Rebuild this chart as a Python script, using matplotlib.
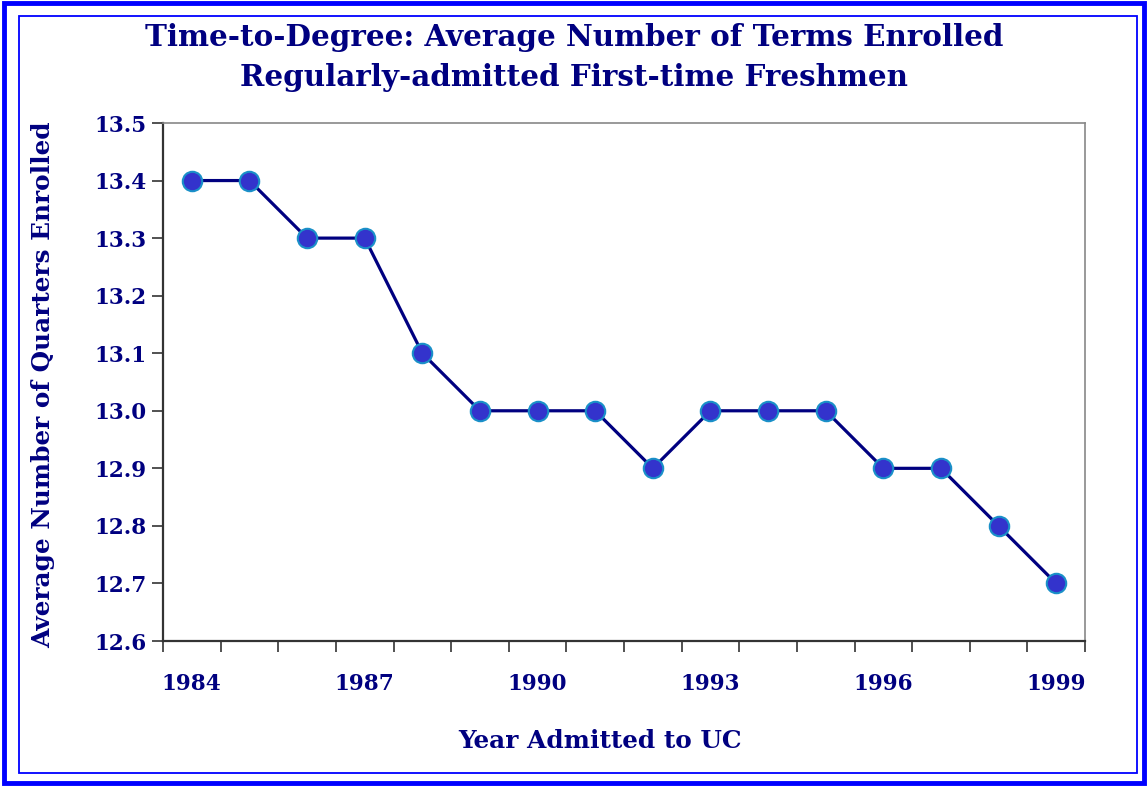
import matplotlib.pyplot as plt
from matplotlib.patches import Rectangle

years = list(range(1984, 2000))
terms = [13.4, 13.4, 13.3, 13.3, 13.1, 13.0, 13.0, 13.0, 12.9, 13.0, 13.0, 13.0, 12.9, 12.9, 12.8, 12.7]
y_ticks = [12.6, 12.7, 12.8, 12.9, 13.0, 13.1, 13.2, 13.3, 13.4, 13.5]

navy = '#000080'
plt.rcParams['font.family'] = ['DejaVu Serif']
plt.rcParams['font.weight'] = 'bold'

fig = plt.figure(figsize=(11.48, 7.86), dpi=100)
ax = fig.add_axes([163 / 1148, 1 - 641 / 786, (1085 - 163) / 1148, (641 - 123) / 786])

x = list(range(len(years)))
ax.plot(x, terms, color=navy, lw=2.3, marker='o', ms=14,
        markerfacecolor='#3333CC', markeredgecolor='#1A90C8', markeredgewidth=1.5, zorder=3)

ax.set_xlim(-0.5, len(years) - 0.5)
ax.set_ylim(12.6, 13.5)
ax.set_yticks(y_ticks)
ax.set_yticklabels([f'{v:.1f}' for v in y_ticks])
ax.set_xticks(x[::3])
ax.set_xticklabels([str(y) for y in years[::3]])
ax.set_xticks([i - 0.5 for i in range(len(years) + 1)], minor=True)
ax.tick_params(axis='x', which='major', length=0, pad=23)
ax.tick_params(axis='x', which='minor', length=8, width=1.2, color='#333333')
ax.tick_params(axis='y', length=8, width=1.2, color='#333333', pad=4)
for lab in ax.get_xticklabels() + ax.get_yticklabels():
    lab.set_color(navy)
    lab.set_fontsize(15.5)
    lab.set_fontweight('bold')

for side in ['left', 'bottom']:
    ax.spines[side].set_color('#333333')
    ax.spines[side].set_linewidth(1.6)
for side in ['top', 'right']:
    ax.spines[side].set_color('#888888')
    ax.spines[side].set_linewidth(1.2)

ax.set_xlabel('Year Admitted to UC', color=navy, fontsize=17.8, fontweight='bold')
ax.set_ylabel('Average Number of Quarters Enrolled', color=navy, fontsize=17.8, fontweight='bold')
ax.xaxis.set_label_coords((600 - 163) / 922, (641 - 741) / 518)
ax.yaxis.set_label_coords((43 - 163) / 922, (641 - 385) / 518)
ax.xaxis.label.set_va('center')
ax.yaxis.label.set_va('center')

fig.text(0.5, 1 - 38 / 786, 'Time-to-Degree: Average Number of Terms Enrolled',
         ha='center', va='center', color=navy, fontsize=21.2, fontweight='bold')
fig.text(0.5, 1 - 78 / 786, 'Regularly-admitted First-time Freshmen',
         ha='center', va='center', color=navy, fontsize=21.2, fontweight='bold')

# double border
fig.patches.append(Rectangle((4 / 1148, 3 / 786), 1 - 8 / 1148, 1 - 6 / 786, transform=fig.transFigure,
                             fill=False, edgecolor='#0000FF', lw=3.5))
fig.patches.append(Rectangle((19 / 1148, 13 / 786), 1 - 30 / 1148, 1 - 29 / 786, transform=fig.transFigure,
                             fill=False, edgecolor='#0000FF', lw=1.3))

fig.savefig('out.png', dpi=100)
